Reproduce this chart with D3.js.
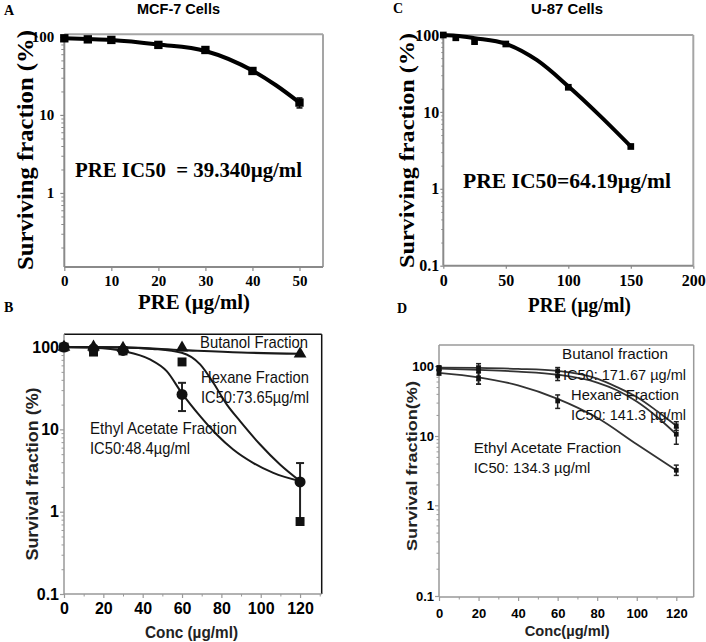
<!DOCTYPE html>
<html><head><meta charset="utf-8">
<script src="https://cdn.jsdelivr.net/npm/d3@7"></script>
<style>body{margin:0;background:#fff}svg{display:block}text{white-space:pre}</style>
</head><body>
<svg id="chart" width="706" height="642"></svg>
<script>
// ---------- Panel A : MCF-7 cells ----------
const aTitle = "MCF-7 Cells";
const aConc = [0, 5, 10, 20, 30, 40, 50];
const aSurv = [96, 93, 91.5, 79, 68, 36.6, 14.4];
const aErrLo = [94, 91, 89, 77, 65, 34.5, 12.3];
const aErrHi = [98, 95, 94, 81, 71, 38.5, 16.5];
const aFitConc = [0, 5, 10, 20, 30, 40, 45, 50];
const aFitSurv = [96, 94, 91.5, 80, 66, 37, 24, 14.4];
const aXTicks = [0, 10, 20, 30, 40, 50];
const aYTicks = [1, 10, 100];
const aNote = "PRE IC50  = 39.340µg/ml";

// ---------- Panel C : U-87 cells ----------
const cTitle = "U-87 Cells";
const cConc = [0, 10, 25, 50, 100, 150];
const cSurv = [100, 92, 82, 76.4, 20.9, 3.55];
const cFitConc = [0, 10, 25, 50, 75, 100, 125, 150];
const cFitSurv = [100, 98, 91, 77, 47, 21.5, 9, 3.55];
const cXTicks = [0, 50, 100, 150, 200];
const cYTicks = [0.1, 1, 10, 100];
const cNote = "PRE IC50=64.19µg/ml";

// ---------- Panel B : fractions (MCF-7) ----------
const bConc = [0, 15, 30, 60, 120];
const bButanol = [100, 101, 97, 98, 83];
const bHexane = [100, 87, 90, 66, 0.76];
const bEthyl = [100, 95, 91, 26.6, 2.3];
const bEthylErrLo = [96, 90, 86, 16.7, 0.78];
const bEthylErrHi = [104, 100, 96, 36.8, 3.9];
const bButFitConc = [0, 30, 60, 90, 120];
const bButFitSurv = [100, 99, 92, 86, 83];
const bHexFitConc = [0, 30, 45, 59.8, 69.2, 75.9, 82.7, 89.5, 99.7, 109.8, 120];
const bHexFitSurv = [100, 99, 95, 85.3, 61.6, 36.8, 20.1, 12.6, 6.55, 3.74, 2.35];
const bEthFitConc = [0, 15, 30.2, 43.7, 52.2, 59.8, 69.2, 77.6, 86, 96.3, 106.4, 120];
const bEthFitSurv = [100, 98, 89.4, 70.8, 51, 27.8, 14.5, 8.67, 5.7, 3.9, 2.96, 2.35];
const bXTicks = [0, 20, 40, 60, 80, 100, 120];
const bYTicks = [0.1, 1, 10, 100];
const bLabels = ["Butanol Fraction", "Hexane Fraction", "IC50:73.65µg/ml", "Ethyl Acetate Fraction", "IC50:48.4µg/ml"];

// ---------- Panel D : fractions (U-87) ----------
const dConc = [0, 20, 60, 120];
const dButanol = [95, 93, 85, 14];
const dButErrLo = [89, 55, 72, 12];
const dButErrHi = [100, 108, 95, 16];
const dHexane = [92, 85, 72, 10.6];
const dHexErrLo = [86, 62, 62, 7.6];
const dHexErrHi = [98, 100, 82, 13];
const dEthyl = [80, 68, 31.6, 3.2];
const dEthErrLo = [74, 55, 24.8, 2.7];
const dEthErrHi = [86, 80, 38.6, 3.8];
const dFitConc = [0, 20, 40, 60, 80, 90, 100, 110, 120];
const dButFit = [95, 94, 91, 85, 66, 50, 36, 23, 14];
const dHexFit = [92, 88, 83, 75, 58, 45, 31, 19, 10.6];
const dEthFitConc = [0, 20, 40, 60, 80, 100, 120];
const dEthFit = [80, 69, 53, 34, 18.2, 7.6, 3.2];
const dXTicks = [0, 20, 40, 60, 80, 100, 120];
const dYTicks = [0.1, 1, 10, 100];
const dLabels = ["Butanol fraction", "IC50: 171.67 µg/ml", "Hexane Fraction", "IC50: 141.3 µg/ml", "Ethyl Acetate Fraction", "IC50: 134.3 µg/ml"];

// ---------- rendering ----------
const SERIF = '"Liberation Serif","Times New Roman",serif';
const SANS = '"Liberation Sans",Arial,sans-serif';
const NARROW = '"Liberation Sans Narrow","Arial Narrow","Liberation Sans",sans-serif';
const svg = d3.select("#chart");

function minorLog(lo, hi) {
  const out = [];
  for (let e = Math.floor(Math.log10(lo)); e <= Math.ceil(Math.log10(hi)); e++)
    for (let k = 2; k <= 9; k++) { const v = k * Math.pow(10, e); if (v > lo && v < hi) out.push(v); }
  return out;
}

function txt(g, s, x, y, o) {
  const t = g.append("text").text(s)
    .attr("font-family", o.family).attr("font-size", o.size)
    .attr("font-weight", o.weight || "normal").attr("fill", o.color || "#000")
    .attr("text-anchor", o.anchor || "start");
  if (o.rotate) {
    t.attr("transform", `translate(${x},${y}) rotate(-90)`).attr("dominant-baseline", "central");
  } else t.attr("x", x).attr("y", y);
  if (o.len) t.attr("textLength", o.len).attr("lengthAdjust", "spacingAndGlyphs");
  return t;
}

function makePanel(p) {
  const g = svg.append("g");
  const x = d3.scaleLinear().domain(p.xDomain).range([p.left, p.right]);
  const y = d3.scaleLog().domain(p.yDomain).range(p.yRange);
  // frame top/right
  g.append("line").attr("x1", p.left).attr("x2", p.right).attr("y1", p.top).attr("y2", p.top)
    .attr("stroke", p.frameColor).attr("stroke-width", p.frameW);
  g.append("line").attr("x1", p.right).attr("x2", p.right).attr("y1", p.top).attr("y2", p.bottom)
    .attr("stroke", p.frameColor).attr("stroke-width", p.frameW);
  // minor ticks
  g.append("g").attr("transform", `translate(${p.left},0)`)
    .call(d3.axisLeft(y).tickValues(minorLog(p.yDomain[0], p.yDomain[p.yDomain.length - 1])).tickSize(p.minorLen).tickFormat(""))
    .call(s => { s.select(".domain").remove(); s.selectAll("line").attr("stroke", p.axisColor); });
  if (p.xMinor) g.append("g").attr("transform", `translate(0,${p.bottom})`)
    .call(d3.axisBottom(x).tickValues(p.xMinor).tickSize(p.minorLen).tickFormat(""))
    .call(s => { s.select(".domain").remove(); s.selectAll("line").attr("stroke", p.axisColor); });
  // main axes
  const xa = g.append("g").attr("transform", `translate(0,${p.bottom})`)
    .call(d3.axisBottom(x).tickValues(p.xTicks).tickSize(p.tickLen).tickSizeOuter(0).tickPadding(p.xPad).tickFormat(d => String(d)));
  const ya = g.append("g").attr("transform", `translate(${p.left},0)`)
    .call(d3.axisLeft(y).tickValues(p.yTicks).tickSize(p.tickLen).tickSizeOuter(0).tickPadding(p.yPad).tickFormat(d => String(d)));
  [xa, ya].forEach(a => {
    a.select(".domain").attr("stroke", p.axisColor).attr("stroke-width", p.frameW);
    a.selectAll("line").attr("stroke", p.axisColor).attr("stroke-width", 1.2);
    a.selectAll("text").attr("font-family", p.tickFamily).attr("font-size", p.tickSize)
      .attr("font-weight", "bold").attr("fill", "#000");
  });
  xa.select(".domain").attr("d", `M${p.left},0H${p.right}`);
  ya.select(".domain").attr("d", `M0,${p.top}V${p.bottom}`);
  return { g, x, y };
}

function curve(P, xs, ys, color, w) {
  const line = d3.line().x((d, i) => P.x(xs[i])).y(d => P.y(d)).curve(d3.curveMonotoneX);
  P.g.append("path").attr("d", line(ys)).attr("fill", "none").attr("stroke", color)
    .attr("stroke-width", w).attr("stroke-linejoin", "round");
}
function errBars(P, xs, lo, hi, color, w, cap) {
  xs.forEach((xv, i) => {
    const X = P.x(xv), y1 = P.y(lo[i]), y2 = P.y(hi[i]);
    P.g.append("line").attr("x1", X).attr("x2", X).attr("y1", y1).attr("y2", y2).attr("stroke", color).attr("stroke-width", w);
    [y1, y2].forEach(yy => P.g.append("line").attr("x1", X - cap).attr("x2", X + cap).attr("y1", yy).attr("y2", yy).attr("stroke", color).attr("stroke-width", w));
  });
}
function markers(P, xs, ys, type, size, color) {
  const sym = d3.symbol().type(type).size(size);
  ys.forEach((v, i) => P.g.append("path").attr("d", sym()).attr("fill", color)
    .attr("transform", `translate(${P.x(xs[i])},${P.y(v)})`));
}

// ---- Panel A ----
const A = makePanel({ left: 64.3, right: 323, top: 34.3, bottom: 267, xDomain: [0, 55], yDomain: [0.1125, 108],
  yRange: [267, 34.3], xTicks: aXTicks, yTicks: aYTicks, tickLen: 4, minorLen: 3, xPad: 4, yPad: 6,
  tickFamily: SERIF, tickSize: 15, axisColor: "#8a8a8a", frameColor: "#a5a5a5", frameW: 2 });
curve(A, aFitConc, aFitSurv, "#000", 4);
errBars(A, aConc, aErrLo, aErrHi, "#000", 1.5, 3);
markers(A, aConc, aSurv, d3.symbolSquare, 70, "#000");
txt(A.g, aNote, 75, 177, { family: SERIF, size: 20, weight: "bold", len: 227 });
txt(A.g, "Surviving fraction (%)", 25, 150, { family: SERIF, size: 24, weight: "bold", anchor: "middle", rotate: true, len: 240 });
txt(A.g, "PRE (µg/ml)", 138, 309, { family: SERIF, size: 21, weight: "bold", len: 112 });
txt(A.g, aTitle, 137, 14, { family: NARROW, size: 15, weight: "bold", len: 83 });
txt(A.g, "A", 4, 15, { family: SERIF, size: 14, weight: "bold" });

// ---- Panel C ----
const C = makePanel({ left: 443.3, right: 693.3, top: 35, bottom: 265.7, xDomain: [0, 200], yDomain: [0.1, 100],
  yRange: [265.7, 35], xTicks: cXTicks, yTicks: cYTicks, tickLen: 3, minorLen: 2, xPad: 6, yPad: 1,
  tickFamily: SERIF, tickSize: 16, axisColor: "#8a8a8a", frameColor: "#a5a5a5", frameW: 2 });
curve(C, cFitConc, cFitSurv, "#000", 4);
markers(C, cConc, cSurv, d3.symbolSquare, 45, "#000");
txt(C.g, cNote, 463, 188, { family: SERIF, size: 22, weight: "bold", len: 208 });
txt(C.g, "Surviving fraction (%)", 406.5, 150.5, { family: SERIF, size: 21, weight: "bold", anchor: "middle", rotate: true, len: 235 });
txt(C.g, "PRE (µg/ml)", 528, 312, { family: SERIF, size: 22, weight: "bold", len: 103 });
txt(C.g, cTitle, 531, 14, { family: NARROW, size: 15, weight: "bold", len: 72 });
txt(C.g, "C", 393, 13, { family: SERIF, size: 14, weight: "bold" });

// ---- Panel B ----
const B = makePanel({ left: 64, right: 321.7, top: 334.3, bottom: 594, xDomain: [0, 131], yDomain: [0.1, 143],
  yRange: [594, 334.3], xTicks: bXTicks, yTicks: bYTicks, tickLen: 4, minorLen: 2.5, xPad: 5, yPad: 1,
  xMinor: [10, 30, 50, 70, 90, 110, 130],
  tickFamily: NARROW, tickSize: 16, axisColor: "#999", frameColor: "#111", frameW: 1.5 });
curve(B, bButFitConc, bButFitSurv, "#1a1a1a", 2.2);
curve(B, bHexFitConc, bHexFitSurv, "#1a1a1a", 2);
curve(B, bEthFitConc, bEthFitSurv, "#1a1a1a", 2);
errBars(B, bConc, bEthylErrLo, bEthylErrHi, "#222", 2, 4);
markers(B, bConc, bHexane, d3.symbolSquare, 80, "#111");
markers(B, bConc, bEthyl, d3.symbolCircle, 95, "#111");
markers(B, bConc, bButanol, d3.symbolTriangle, 70, "#111");
txt(B.g, bLabels[0], 200, 347.5, { family: SANS, size: 17, len: 108, color: "#111" });
txt(B.g, bLabels[1], 201, 382.5, { family: SANS, size: 17, len: 108, color: "#111" });
txt(B.g, bLabels[2], 201, 402.5, { family: SANS, size: 17, len: 108, color: "#111" });
txt(B.g, bLabels[3], 90, 434, { family: SANS, size: 17, len: 147, color: "#111" });
txt(B.g, bLabels[4], 90, 454, { family: SANS, size: 17, len: 100, color: "#111" });
txt(B.g, "Survival fraction (%)", 32.5, 474, { family: SANS, size: 17, weight: "bold", anchor: "middle", rotate: true, len: 173, color: "#222" });
txt(B.g, "Conc (µg/ml)", 145, 637.5, { family: NARROW, size: 17, weight: "bold", len: 93, color: "#222" });
txt(B.g, "B", 4, 312, { family: SERIF, size: 14, weight: "bold" });

// ---- Panel D ----
const D = makePanel({ left: 439, right: 693.7, top: 345, bottom: 597, xDomain: [0, 128.8], yDomain: [0.1, 1, 10, 100, 200],
  yRange: [596, 505.3, 436, 366, 345], xTicks: dXTicks, yTicks: dYTicks, tickLen: 4, minorLen: 2.5, xPad: 8, yPad: 1,
  xMinor: [10, 30, 50, 70, 90, 110],
  tickFamily: NARROW, tickSize: 13, axisColor: "#999", frameColor: "#9a9a9a", frameW: 1.5 });
curve(D, dFitConc, dButFit, "#333", 1.8);
curve(D, dFitConc, dHexFit, "#333", 1.8);
curve(D, dEthFitConc, dEthFit, "#333", 1.8);
errBars(D, dConc, dButErrLo, dButErrHi, "#222", 1.5, 2.5);
errBars(D, dConc, dHexErrLo, dHexErrHi, "#222", 1.5, 2.5);
errBars(D, dConc, dEthErrLo, dEthErrHi, "#222", 1.5, 2.5);
markers(D, dConc, dButanol, d3.symbolSquare, 22, "#111");
markers(D, dConc, dHexane, d3.symbolSquare, 22, "#111");
markers(D, dConc, dEthyl, d3.symbolSquare, 22, "#111");
txt(D.g, dLabels[0], 562, 358.5, { family: SANS, size: 15, len: 106, color: "#111" });
txt(D.g, dLabels[1], 563, 379.5, { family: SANS, size: 15, len: 123, color: "#111" });
txt(D.g, dLabels[2], 571, 400, { family: SANS, size: 15, len: 108, color: "#111" });
txt(D.g, dLabels[3], 571, 419.5, { family: SANS, size: 15, len: 115, color: "#111" });
txt(D.g, dLabels[4], 473.7, 452.5, { family: SANS, size: 15, len: 147.6, color: "#111" });
txt(D.g, dLabels[5], 473.7, 472.5, { family: SANS, size: 15, len: 116.6, color: "#111" });
txt(D.g, "Survival fraction(%)", 411.5, 466, { family: SANS, size: 14, weight: "bold", anchor: "middle", rotate: true, len: 170, color: "#222" });
txt(D.g, "Conc(µg/ml)", 524.7, 636, { family: SANS, size: 15, weight: "bold", len: 85, color: "#222" });
txt(D.g, "D", 397, 313, { family: SERIF, size: 14, weight: "bold" });
</script>
</body></html>
